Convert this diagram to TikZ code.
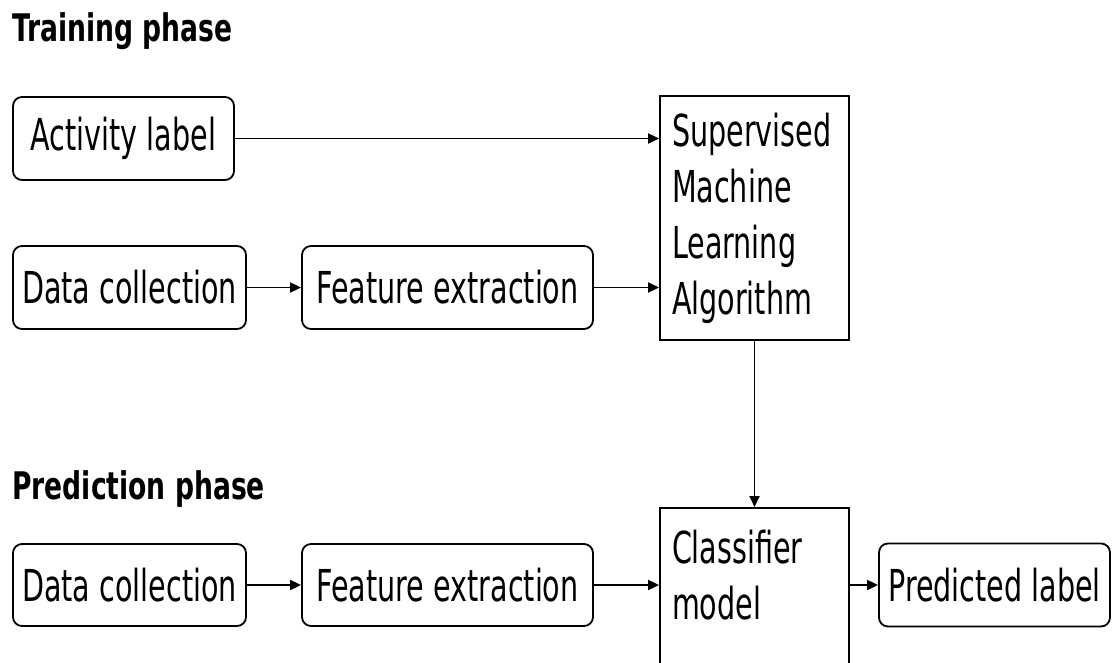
\documentclass[tikz,border=0pt]{standalone}
\usepackage{fontspec}
\newfontfamily\boxfont{DejaVu Sans}[FakeStretch=0.65]
\newfontfamily\titlefont{DejaVu Sans}[FakeStretch=0.7]
\usetikzlibrary{arrows.meta}
\begin{document}
\begin{tikzpicture}[x=1pt,y=-1pt,
  boxtext/.style={font=\boxfont\fontsize{44}{56}\selectfont},
  rbox/.style={draw, rounded corners=9pt, line width=1.8pt, inner sep=0pt, boxtext},
  sqbox/.style={draw, line width=1.8pt, boxtext, align=left, inner xsep=12pt, text width=165pt},
  title/.style={font=\titlefont\bfseries\fontsize{38}{46}\selectfont, inner sep=0pt, anchor=base west},
  conn/.style={line width=1.8pt, -{Triangle[length=11pt,width=10pt]}}
]
\clip (0,0) rectangle (1112,662);
\fill[white] (0,0) rectangle (1112,662);

\node[title] (ttrain) at (12,41) {Training phase};
\node[title] (tpred) at (12,499) {Prediction phase};

\node[rbox, minimum width=221pt, minimum height=83pt] (act) at (123.5,138.5) {Activity label};
\node[rbox, minimum width=233pt, minimum height=83pt] (dc1) at (129.5,287.5) {Data collection};
\node[rbox, minimum width=291pt, minimum height=83pt] (fe1) at (447.5,287.5) {Feature extraction};
\node[sqbox, minimum width=189pt, minimum height=244pt] (sml) at (754.5,218) {Supervised\\Machine\\Learning\\Algorithm};

\node[rbox, minimum width=233pt, minimum height=82pt] (dc2) at (129.5,585) {Data collection};
\node[rbox, minimum width=291pt, minimum height=82pt] (fe2) at (447.5,585) {Feature extraction};
\node[sqbox, anchor=north, inner ysep=22pt, text depth=160pt] (cls) at (754.5,507) {Classifier\\model};
\node[rbox, minimum width=231pt, minimum height=83pt] (pred) at (994.5,585) {Predicted label};

\draw[conn] (act.east) -- (act.east -| sml.west);
\draw[conn] (dc1.east) -- (fe1.west);
\draw[conn] (fe1.east) -- (fe1.east -| sml.west);
\draw[conn] (sml.south) -- (cls.north);
\draw[conn] (dc2.east) -- (fe2.west);
\draw[conn] (fe2.east) -- (fe2.east -| cls.west);
\draw[conn] (fe2.east -| cls.east) -- (pred.west);
\end{tikzpicture}
\end{document}
